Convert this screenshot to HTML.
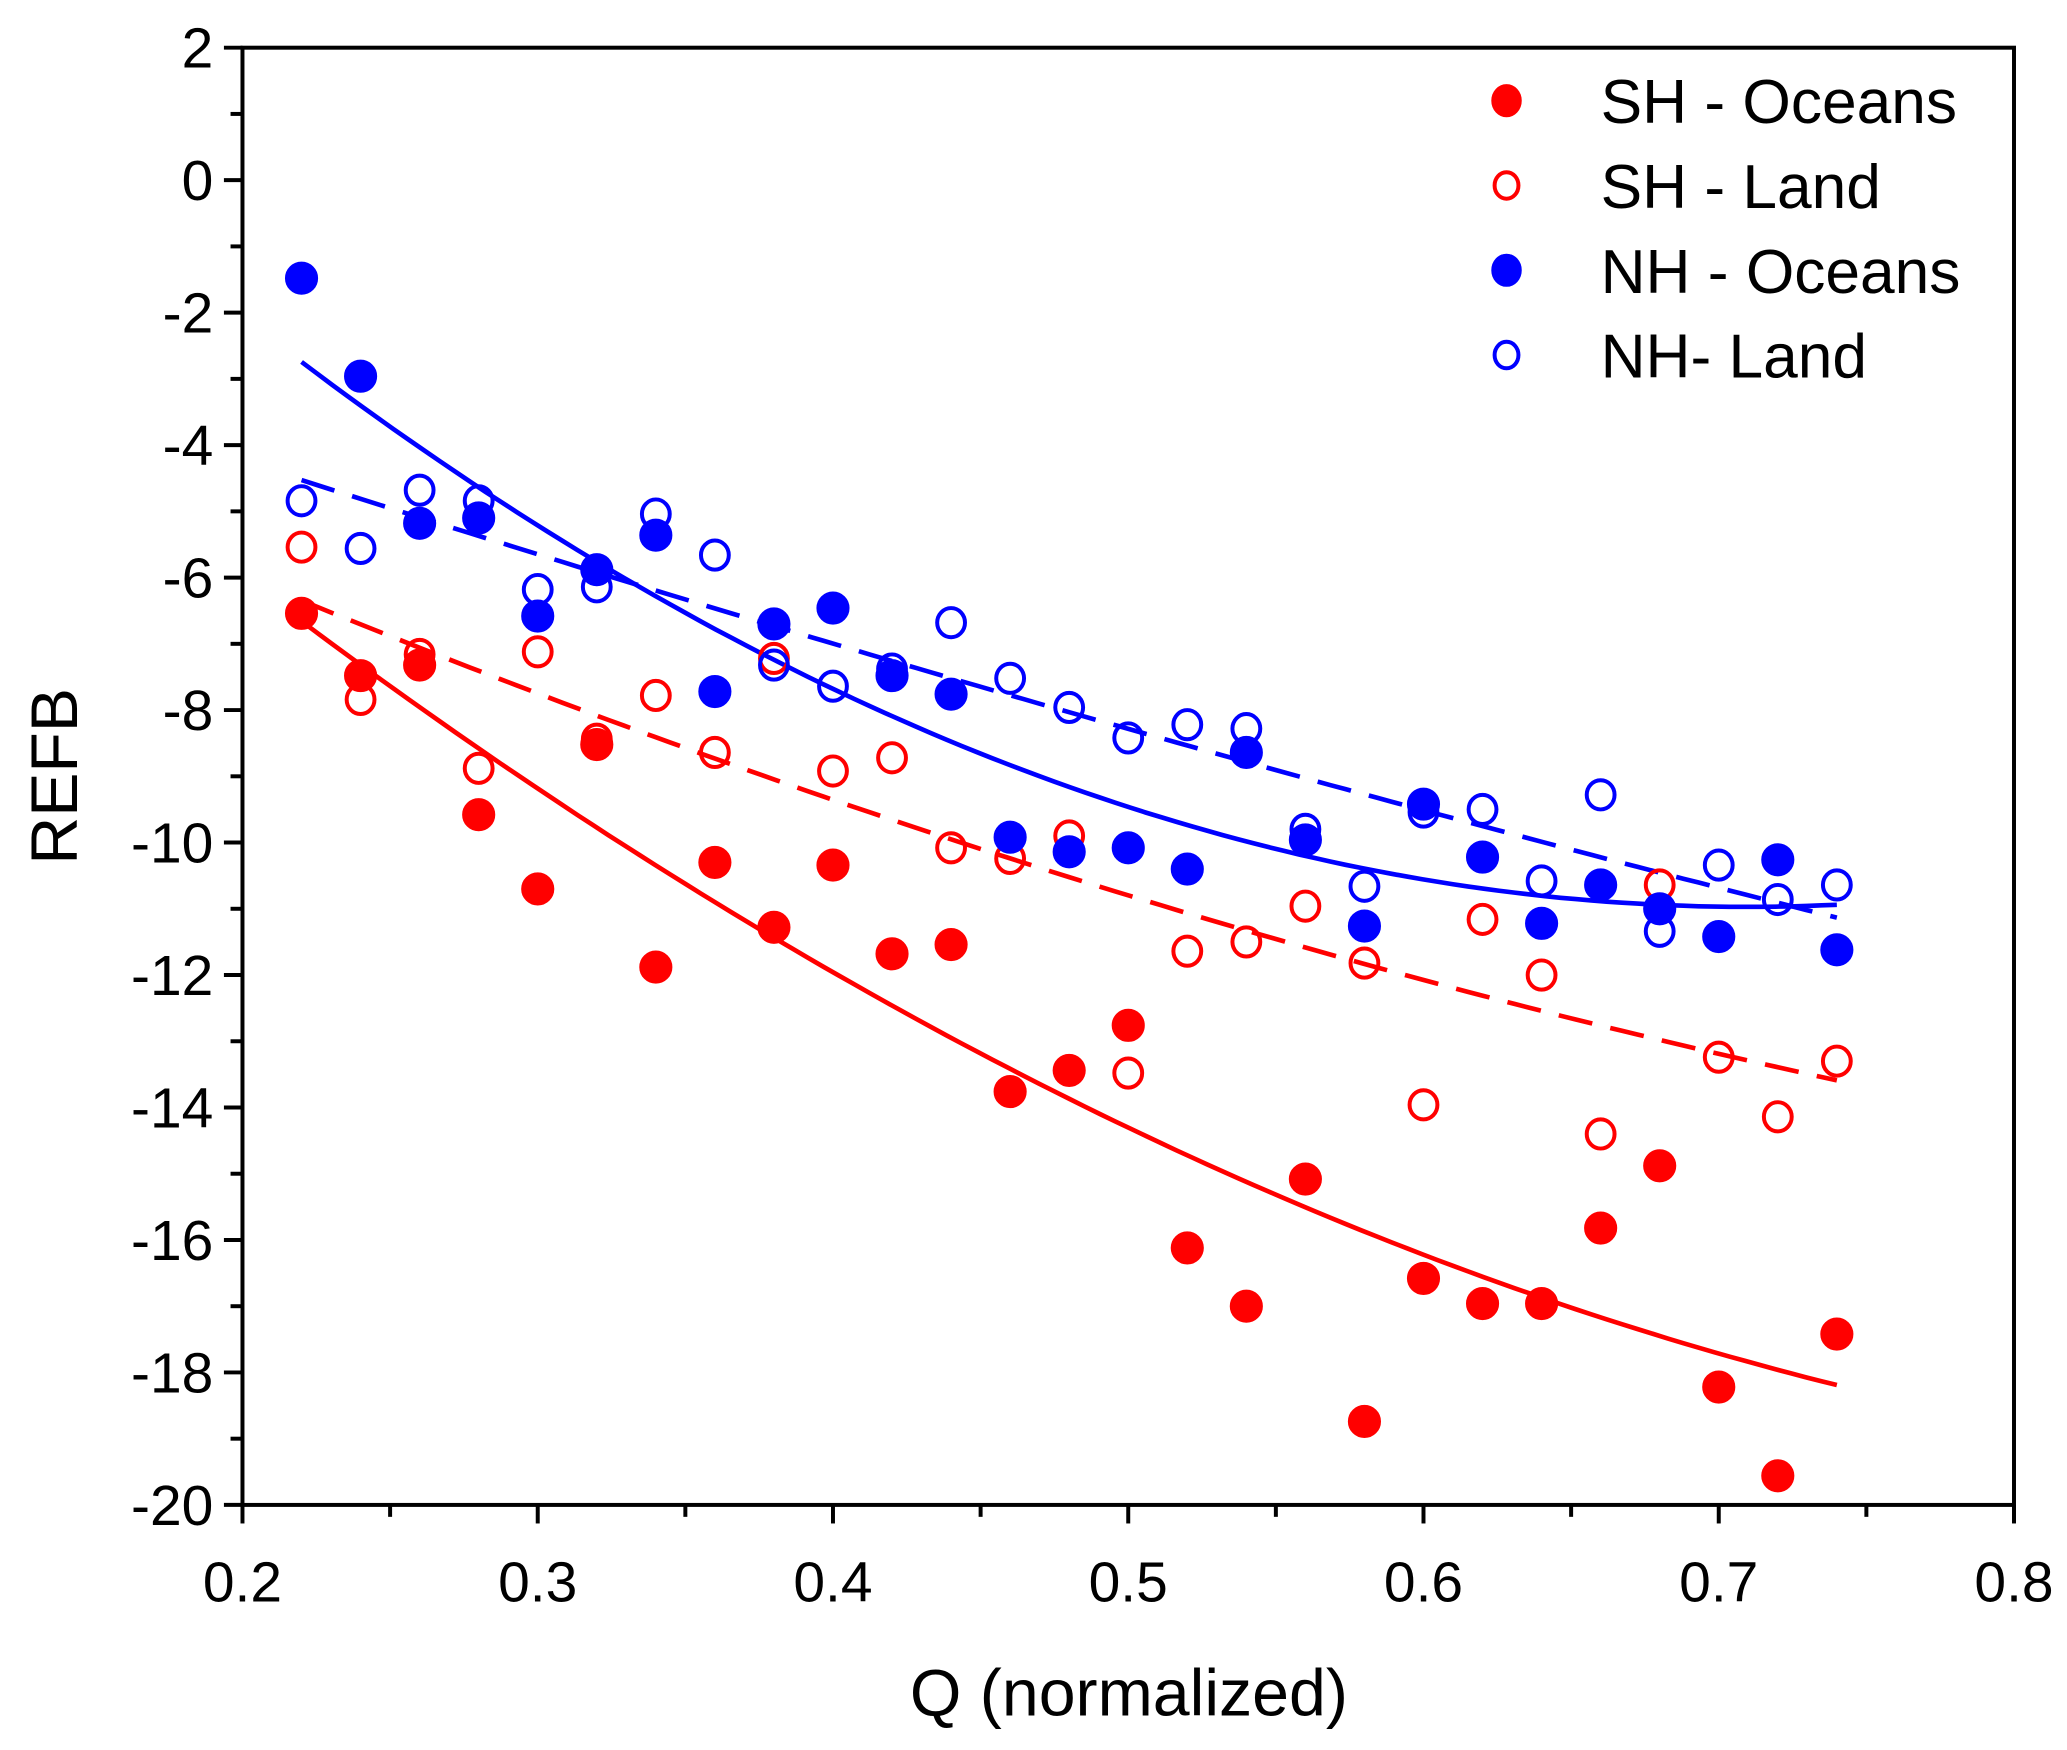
<!DOCTYPE html>
<html><head><meta charset="utf-8"><style>
html,body{margin:0;padding:0;background:#fff}
svg{display:block}
text{font-family:"Liberation Sans",Arial,sans-serif;fill:#000}
</style></head><body>
<svg id="chart" width="2067" height="1750" viewBox="0 0 1560 1321" preserveAspectRatio="none" xmlns="http://www.w3.org/2000/svg">
<g id="axes"></g>
<g id="fits"></g>
<g id="marks"></g>
<g id="legend"></g>
<text x="852" y="1295" font-size="50" text-anchor="middle">Q (normalized)</text>
<text transform="translate(58,586) rotate(-90)" font-size="50" text-anchor="middle">REFB</text>
</svg>
<script>
const qValues=[0.22,0.24,0.26,0.28,0.30,0.32,0.34,0.36,0.38,0.40,0.42,0.44,0.46,0.48,0.50,0.52,0.54,0.56,0.58,0.60,0.62,0.64,0.66,0.68,0.70,0.72,0.74];
const shOceans=[-6.54,-7.48,-7.32,-9.58,-10.7,-8.52,-11.88,-10.3,-11.28,-10.34,-11.68,-11.54,-13.76,-13.44,-12.76,-16.12,-17.0,-15.08,-18.74,-16.58,-16.96,-16.96,-15.82,-14.88,-18.22,-19.56,-17.42];
const shLand=[-5.54,-7.84,-7.16,-8.88,-7.12,-8.44,-7.78,-8.64,-7.22,-8.92,-8.72,-10.08,-10.24,-9.9,-13.48,-11.64,-11.5,-10.96,-11.82,-13.96,-11.16,-12.0,-14.4,-10.64,-13.24,-14.14,-13.3];
const nhOceans=[-1.48,-2.96,-5.18,-5.1,-6.58,-5.88,-5.36,-7.72,-6.7,-6.46,-7.48,-7.76,-9.92,-10.14,-10.08,-10.4,-8.64,-9.96,-11.26,-9.42,-10.22,-11.22,-10.64,-11.0,-11.42,-10.26,-11.62];
const nhLand=[-4.84,-5.56,-4.68,-4.84,-6.18,-6.14,-5.04,-5.66,-7.32,-7.64,-7.38,-6.68,-7.52,-7.96,-8.42,-8.22,-8.28,-9.8,-10.66,-9.54,-9.5,-10.58,-9.28,-11.34,-10.34,-10.86,-10.64];
const xTicks=[0.2,0.3,0.4,0.5,0.6,0.7,0.8];
const yTicks=[2,0,-2,-4,-6,-8,-10,-12,-14,-16,-18,-20];
const seriesNames=["SH - Oceans","SH - Land","NH - Oceans","NH- Land"];

const L=183,R=1520,T=36,B=1136;
const xs=v=>L+(v-0.2)/0.6*(R-L);
const ys=v=>T+(2-v)/22*(B-T);
const NS="http://www.w3.org/2000/svg";
function mk(tag,parent,attrs){const e=document.createElementNS(NS,tag);for(const k in attrs)e.setAttribute(k,attrs[k]);parent.appendChild(e);return e;}
const axes=document.getElementById('axes');
let a=mk('rect',axes,{x:L,y:T,width:R-L,height:B-T,fill:'none',stroke:'#000','stroke-width':3});


for(let v=0.2;v<=0.8001;v+=0.05){
  const major=Math.abs(Math.round(v*10)-v*10)<1e-6;
  const t=mk('line',axes,{x1:xs(v),x2:xs(v),y1:B,y2:B+(major?14:9),stroke:'#000','stroke-width':3});
  
  
}
xTicks.forEach(v=>{const t=mk('text',axes,{x:xs(v),y:B+73,'font-size':43,'text-anchor':'middle'});t.textContent=v.toFixed(1);

});
for(let v=2;v>=-20;v-=1){
  const major=v%2===0;
  const t=mk('line',axes,{x1:L-(major?14:9),x2:L,y1:ys(v),y2:ys(v),stroke:'#000','stroke-width':3});
  
  
}
yTicks.forEach(v=>{const t=mk('text',axes,{x:L-22,y:ys(v)+15,'font-size':43,'text-anchor':'end'});t.textContent=String(v);

});

function quadFit(x,y){let S=[0,0,0,0,0],Ty=[0,0,0];for(let i=0;i<x.length;i++){let p=1;for(let k=0;k<5;k++){S[k]+=p;if(k<3)Ty[k]+=p*y[i];p*=x[i];}}
const M=[[S[0],S[1],S[2],Ty[0]],[S[1],S[2],S[3],Ty[1]],[S[2],S[3],S[4],Ty[2]]];
for(let i=0;i<3;i++){for(let j=i+1;j<3;j++){const f=M[j][i]/M[i][i];for(let k=i;k<4;k++)M[j][k]-=f*M[i][k];}}
const c=[0,0,0];for(let i=2;i>=0;i--){let s=M[i][3];for(let k=i+1;k<3;k++)s-=M[i][k]*c[k];c[i]=s/M[i][i];}return c;}
const fits=document.getElementById('fits');
function drawFit(data,color,dash,name){const c=quadFit(qValues,data);let d='';for(let i=0;i<=100;i++){const q=0.22+0.52*i/100;const v=c[0]+c[1]*q+c[2]*q*q;d+=(i?'L':'M')+xs(q).toFixed(1)+' '+ys(v).toFixed(1);}
const p=mk('path',fits,{d:d,fill:'none',stroke:color,'stroke-width':3.5});if(dash)p.setAttribute('stroke-dasharray','26 14');

}
drawFit(shOceans,'#f00',false,'sh-oceans-fit');
drawFit(shLand,'#f00',true,'sh-land-fit');
drawFit(nhOceans,'#00f',false,'nh-oceans-fit');
drawFit(nhLand,'#00f',true,'nh-land-fit');

const marks=document.getElementById('marks');
function drawPts(data,color,filled,name){data.forEach((v,i)=>{const c=mk('ellipse',marks,{cx:xs(qValues[i]),cy:ys(v),rx:filled?12:10.5,ry:filled?12:11,fill:filled?color:'none',stroke:color,'stroke-width':filled?1:3});

});}
drawPts(shLand,'#f00',false,'sh-land-point');
drawPts(nhLand,'#00f',false,'nh-land-point');
drawPts(shOceans,'#f00',true,'sh-oceans-point');
drawPts(nhOceans,'#00f',true,'nh-oceans-point');

const leg=document.getElementById('legend');
const legColors=['#f00','#f00','#00f','#00f'],legFilled=[true,false,true,false];
seriesNames.forEach((n,i)=>{const y=76+i*64;
const m=mk('ellipse',leg,{cx:1137,cy:y,rx:legFilled[i]?11:9,ry:legFilled[i]?12:10,fill:legFilled[i]?legColors[i]:'none',stroke:legColors[i],'stroke-width':legFilled[i]?1:3});


const t=mk('text',leg,{x:1208,y:y+17,'font-size':47});t.textContent=n;

});
</script>
</body></html>
